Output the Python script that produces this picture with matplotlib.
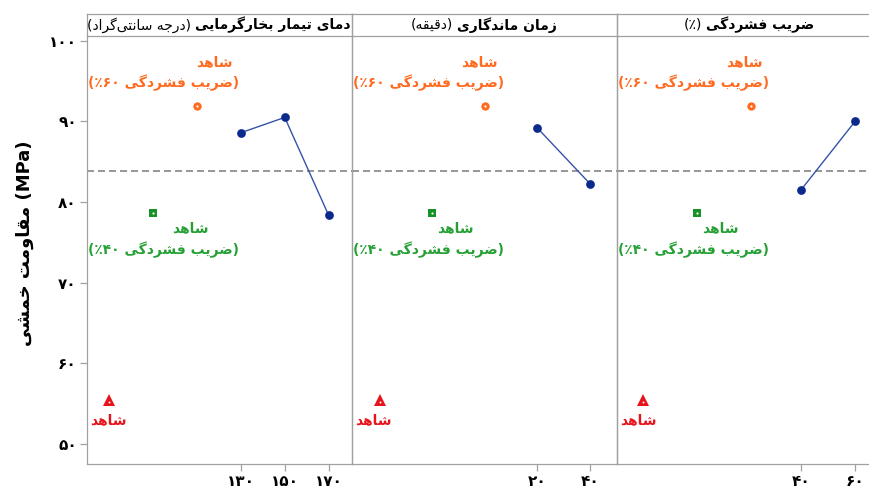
import matplotlib
matplotlib.use("Agg")
import matplotlib.pyplot as plt
from matplotlib.transforms import blended_transform_factory

# ---------------- data ----------------
temp_levels = [130, 150, 170]
temp_means = [88.6, 90.5, 78.4]
time_levels = [20, 40]
time_means = [89.2, 82.3]
comp_levels = [40, 60]
comp_means = [81.5, 90.0]
overall_mean = 83.8

control_60 = 91.9      # شاهد (ضریب فشردگی ۶۰٪)
control_40 = 78.6      # شاهد (ضریب فشردگی ۴۰٪)
control_plain = 55.5   # شاهد

# category positions of the control markers in each panel (60 %, 40 %, plain)
temp_ctrl_x = [110, 90, 70]
time_ctrl_x = [0, -20, -40]
comp_ctrl_x = [21.5, 1.5, -18.5]

y_ticks = [50, 60, 70, 80, 90, 100]

panel_titles = [("دمای تیمار بخارگرمایی", "(درجه سانتی‌گراد)"),
                ("زمان ماندگاری", "(دقیقه)"),
                ("ضریب فشردگی", "(٪)")]
y_label = "مقاومت خمشی (MPa)"
ctrl_word = "شاهد"
ctrl60_label = "(ضریب فشردگی ۶۰٪)"
ctrl40_label = "(ضریب فشردگی ۴۰٪)"

# ---------------- Arabic/Persian shaping + simple bidi ----------------
FORMS = {
    'ا': (0xFE8D, 0xFE8E, None, None), 'آ': (0xFE81, 0xFE82, None, None),
    'ب': (0xFE8F, 0xFE90, 0xFE91, 0xFE92), 'پ': (0xFB56, 0xFB57, 0xFB58, 0xFB59),
    'ت': (0xFE95, 0xFE96, 0xFE97, 0xFE98), 'ث': (0xFE99, 0xFE9A, 0xFE9B, 0xFE9C),
    'ج': (0xFE9D, 0xFE9E, 0xFE9F, 0xFEA0), 'چ': (0xFB7A, 0xFB7B, 0xFB7C, 0xFB7D),
    'ح': (0xFEA1, 0xFEA2, 0xFEA3, 0xFEA4), 'خ': (0xFEA5, 0xFEA6, 0xFEA7, 0xFEA8),
    'د': (0xFEA9, 0xFEAA, None, None), 'ذ': (0xFEAB, 0xFEAC, None, None),
    'ر': (0xFEAD, 0xFEAE, None, None), 'ز': (0xFEAF, 0xFEB0, None, None),
    'ژ': (0xFB8A, 0xFB8B, None, None),
    'س': (0xFEB1, 0xFEB2, 0xFEB3, 0xFEB4), 'ش': (0xFEB5, 0xFEB6, 0xFEB7, 0xFEB8),
    'ص': (0xFEB9, 0xFEBA, 0xFEBB, 0xFEBC), 'ض': (0xFEBD, 0xFEBE, 0xFEBF, 0xFEC0),
    'ط': (0xFEC1, 0xFEC2, 0xFEC3, 0xFEC4), 'ظ': (0xFEC5, 0xFEC6, 0xFEC7, 0xFEC8),
    'ع': (0xFEC9, 0xFECA, 0xFECB, 0xFECC), 'غ': (0xFECD, 0xFECE, 0xFECF, 0xFED0),
    'ف': (0xFED1, 0xFED2, 0xFED3, 0xFED4), 'ق': (0xFED5, 0xFED6, 0xFED7, 0xFED8),
    'ک': (0xFB8E, 0xFB8F, 0xFB90, 0xFB91), 'گ': (0xFB92, 0xFB93, 0xFB94, 0xFB95),
    'ل': (0xFEDD, 0xFEDE, 0xFEDF, 0xFEE0), 'م': (0xFEE1, 0xFEE2, 0xFEE3, 0xFEE4),
    'ن': (0xFEE5, 0xFEE6, 0xFEE7, 0xFEE8), 'ه': (0xFEE9, 0xFEEA, 0xFEEB, 0xFEEC),
    'و': (0xFEED, 0xFEEE, None, None), 'ی': (0xFBFC, 0xFBFD, 0xFBFE, 0xFBFF),
}
DIGITS = set("0123456789۰۱۲۳۴۵۶۷۸۹")


def _shape(s):
    out = []
    for i, c in enumerate(s):
        if c not in FORMS:
            out.append(c)
            continue
        prev = s[i - 1] if i > 0 else None
        nxt = s[i + 1] if i + 1 < len(s) else None
        jp = prev in FORMS and FORMS[prev][2] is not None
        jn = nxt in FORMS and FORMS[c][2] is not None
        iso, fin, ini, med = FORMS[c]
        if jp and jn:
            code = med
        elif jp:
            code = fin
        elif jn:
            code = ini
        else:
            code = iso
        out.append(chr(code))
    return out


def _type(c):
    if c in DIGITS:
        return 'EN'
    if c in '%٪':
        return 'ET'
    if c in FORMS:
        return 'AL'
    if c.isascii() and c.isalpha():
        return 'L'
    return 'N'


def vis(s, rtl=True):
    shaped = _shape(s)
    t = [_type(c) for c in s]
    n = len(s)
    sos = 'R' if rtl else 'L'
    last = sos
    for i in range(n):
        if t[i] in ('L', 'AL'):
            last = t[i]
        elif t[i] == 'EN' and last == 'AL':
            t[i] = 'AN'
    t = ['R' if x == 'AL' else x for x in t]
    i = 0
    while i < n:
        if t[i] == 'ET':
            j = i
            while j < n and t[j] == 'ET':
                j += 1
            if (i > 0 and t[i - 1] == 'EN') or (j < n and t[j] == 'EN'):
                for k in range(i, j):
                    t[k] = 'EN'
            i = j
        else:
            i += 1
    t = ['N' if x == 'ET' else x for x in t]
    last = sos
    for i in range(n):
        if t[i] in ('L', 'R'):
            last = t[i]
        elif t[i] == 'EN' and last == 'L':
            t[i] = 'L'

    def strong(x):
        return 'R' if x in ('R', 'EN', 'AN') else x
    i = 0
    while i < n:
        if t[i] == 'N':
            j = i
            while j < n and t[j] == 'N':
                j += 1
            before = strong(t[i - 1]) if i > 0 else sos
            after = strong(t[j]) if j < n else sos
            val = before if before == after else sos
            for k in range(i, j):
                t[k] = val
            i = j
        else:
            i += 1
    base = 1 if rtl else 0
    lev = []
    for x in t:
        if base == 0:
            lev.append({'L': 0, 'R': 1}.get(x, 2))
        else:
            lev.append(1 if x == 'R' else 2)
    idx = list(range(n))
    for k in range(max(lev), 0, -1):
        i = 0
        while i < n:
            if lev[idx[i]] >= k:
                j = i
                while j < n and lev[idx[j]] >= k:
                    j += 1
                idx[i:j] = idx[i:j][::-1]
                i = j
            else:
                i += 1
    mirror = {'(': ')', ')': '('}
    out = []
    for p in idx:
        c = shaped[p]
        if c == '\u200c':
            continue
        if lev[p] % 2 == 1:
            c = mirror.get(c, c)
        out.append(c)
    return ''.join(out)


def fa_num(v):
    return str(v).translate(str.maketrans("0123456789", "۰۱۲۳۴۵۶۷۸۹"))


# ---------------- figure ----------------
plt.rcParams['font.family'] = ['DejaVu Sans']
W, H = 869, 487
fig = plt.figure(figsize=(W / 100, H / 100), dpi=100)

def fx(px):
    return px / W

def fy(py):
    return 1 - py / H

plot_top, plot_bot = 36, 464
title_top = 14
lefts = [86.5, 351.5, 616.5]
pw = 265
xlims = [(59.5, 180.5), (-50.8, 50.2), (-28.3, 69.8)]
levels = [temp_levels, time_levels, comp_levels]
means = [temp_means, time_means, comp_means]
ctrl_xs = [temp_ctrl_x, time_ctrl_x, comp_ctrl_x]

spine_c = '#a0a0a0'
navy = '#0b2a8c'
line_c = '#3554a8'
orange = '#ff6a1f'
green_t = '#25a035'
green_m = '#179229'
red = '#e8141c'

ylim = (47.5, 100.6)
axes = []
title_axes = []
for p in range(3):
    ax = fig.add_axes([fx(lefts[p]), fy(plot_bot), pw / W, (plot_bot - plot_top) / H])
    ax.patch.set_visible(False)
    ax.set_xlim(*xlims[p])
    ax.set_ylim(*ylim)
    for sp in ax.spines.values():
        sp.set_color(spine_c)
        sp.set_linewidth(0.9)
    ax.spines['top'].set_visible(False)
    if p > 0:
        ax.tick_params(axis='y', left=False, labelleft=False)
    else:
        ax.set_yticks(y_ticks)
        ax.set_yticklabels([fa_num(v) for v in y_ticks], fontsize=11, fontweight='bold')
    ax.set_xticks(levels[p])
    ax.set_xticklabels([fa_num(v) for v in levels[p]], fontsize=11, fontweight='bold')
    ax.tick_params(colors=spine_c, labelcolor='black', length=5, width=0.9, pad=2)

    ax.axhline(overall_mean, color='#7a7a7a', lw=1.1, dashes=(4.6, 2.6), zorder=1)
    ax.plot(levels[p], means[p], color=line_c, lw=1.0, zorder=3)
    ax.plot(levels[p], means[p], 'o', color=navy, ms=6.3, mew=0, zorder=4)

    cx = ctrl_xs[p]
    ax.plot([cx[0]], [control_60], 'o', color=orange, ms=6, mew=0, zorder=4)
    ax.plot([cx[1]], [control_40], 's', color=green_m, ms=5.8, mew=0, zorder=4)
    ax.plot([cx[2]], [control_plain], '^', color=red, ms=8, mew=0, zorder=4)
    ax.plot([cx[0], cx[1]], [control_60, control_40], 'o', color='white', ms=1.6,
            mew=0, zorder=5)
    ax.plot([cx[2]], [control_plain - 0.25], 'o', color='white', ms=1.4, mew=0, zorder=5)

    tr = blended_transform_factory(ax.transAxes, ax.transData)
    fs = 10
    ax.text(0.483, 97.3, vis(ctrl_word), transform=tr, ha='center', va='center',
            color=orange, fontsize=fs, fontweight='bold')
    ax.text(0.29, 94.8, vis(ctrl60_label), transform=tr, ha='center', va='center',
            color=orange, fontsize=fs, fontweight='bold')
    ax.text(0.392, 76.8, vis(ctrl_word), transform=tr, ha='center', va='center',
            color=green_t, fontsize=fs, fontweight='bold')
    ax.text(0.29, 74.1, vis(ctrl40_label), transform=tr, ha='center', va='center',
            color=green_t, fontsize=fs, fontweight='bold')
    ax.text(0.083, 52.9, vis(ctrl_word), transform=tr, ha='center', va='center',
            color=red, fontsize=fs, fontweight='bold')
    axes.append(ax)

    tax = fig.add_axes([fx(lefts[p]), fy(plot_top), pw / W, (plot_top - title_top) / H])
    tax.patch.set_visible(False)
    tax.set_xticks([])
    tax.set_yticks([])
    for sp in tax.spines.values():
        sp.set_color(spine_c)
        sp.set_linewidth(0.9)
    title_axes.append(tax)

axes[0].set_ylabel(vis(y_label, rtl=False), fontsize=13, fontweight='bold')
axes[0].yaxis.set_label_coords((34 - 86.5) / pw, (464 - 243) / 428)

# place titles: bold main part on the right, regular parenthetical on the left
fig.canvas.draw()
r = fig.canvas.get_renderer()
for p in range(3):
    tax = title_axes[p]
    main, par = panel_titles[p]
    tb = tax.text(0, 0.5, vis(main), transform=tax.transAxes, ha='left', va='center',
                  fontsize=10, fontweight='bold')
    tp = tax.text(0, 0.5, vis(par), transform=tax.transAxes, ha='left', va='center',
                  fontsize=10)
    wb = tb.get_window_extent(r).width
    wp = tp.get_window_extent(r).width
    gap = 4
    tot = wb + wp + gap
    axw = tax.get_window_extent(r).width
    start = 0.5 - tot / 2 / axw
    tp.set_x(start)
    tb.set_x(start + (wp + gap) / axw)

fig.savefig("out.png", dpi=100)
